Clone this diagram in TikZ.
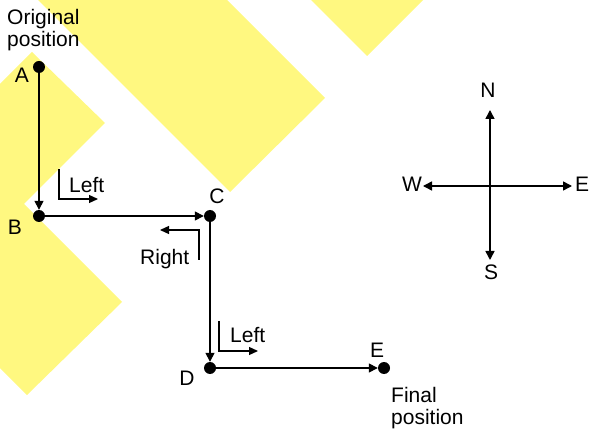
\documentclass[tikz,border=0pt]{standalone}
\usepackage{fontspec}
\setmainfont{Liberation Sans}
\usetikzlibrary{arrows.meta}
\begin{document}
\begin{tikzpicture}[x=1pt,y=-1pt,
  bg/.style={fill=yellow!50,draw=none},
  dot/.style={circle,fill=black,inner sep=0pt,minimum size=12pt},
  lbl/.style={inner sep=0pt,font=\fontsize{21}{22}\selectfont},
  arr/.style={line width=1.5pt,-{Triangle[length=9pt,width=9pt]}},
  sarr/.style={line width=1.2pt,-{Triangle[length=9pt,width=8pt]}}]
\useasboundingbox (0,0) rectangle (589,430);
\begin{scope}
\clip (0,0) rectangle (589,430);
% background ribbons
\fill[bg] (230,192) -- (325,98) -- (75,-152) -- (-20,-58) -- cycle;
\fill[bg] (367,56) -- (287,-24) -- (447,-24) -- cycle;
\fill[bg] (32,52) -- (105,123) -- (-45,273) -- (-68,152) -- cycle;
\fill[bg] (122,302) -- (27,395) -- (-30,338) -- (-30,150) -- (-55,125) -- cycle;
\end{scope}
% points
\node[dot] (A) at (39,67) {};
\node[dot] (B) at (39,216) {};
\node[dot] (C) at (210,216) {};
\node[dot] (D) at (210,368) {};
\node[dot] (E) at (384,368) {};
% point labels
\node[lbl,anchor=base] (lA) at (22,83) {A};
\node[lbl,anchor=base] (lB) at (15,235) {B};
\node[lbl,anchor=base] (lC) at (217,204) {C};
\node[lbl,anchor=base] (lD) at (187,385) {D};
\node[lbl,anchor=base] (lE) at (377,357) {E};
\node[lbl,anchor=base west] (or1) at (7,25) {Original};
\node[lbl,anchor=base west] (or2) at (7,47) {position};
\node[lbl,anchor=base west] (fi1) at (391,402) {Final};
\node[lbl,anchor=base west] (fi2) at (391,424) {position};
% path
\draw[arr] (A) -- (B);
\draw[arr] (B) -- (C);
\draw[arr] (C) -- (D);
\draw[arr] (D) -- (E);
% turn indicators
\coordinate (t1a) at (59,169);
\coordinate (t1b) at (59,199);
\coordinate (t1c) at (98,199);
\draw[sarr] (t1a) -- (t1b) -- (t1c);
\node[lbl,anchor=base west] (left1) at (69,193) {Left};
\coordinate (t2a) at (199,260);
\coordinate (t2b) at (199,230);
\coordinate (t2c) at (160,230);
\draw[sarr] (t2a) -- (t2b) -- (t2c);
\node[lbl,anchor=base west] (right1) at (140,265) {Right};
\coordinate (t3a) at (219,321);
\coordinate (t3b) at (219,351);
\coordinate (t3c) at (258,351);
\draw[sarr] (t3a) -- (t3b) -- (t3c);
\node[lbl,anchor=base west] (left2) at (230,342) {Left};
% compass
\coordinate (O) at (490,186);
\coordinate (cN) at (490,110);
\coordinate (cS) at (490,260);
\coordinate (cW) at (423,186);
\coordinate (cE) at (572,186);
\draw[arr] (O) -- (cN);
\draw[arr] (O) -- (cS);
\draw[arr] (O) -- (cW);
\draw[arr] (O) -- (cE);
\node[lbl,anchor=base] (nN) at (488,98) {N};
\node[lbl,anchor=base] (nS) at (491,280) {S};
\node[lbl,anchor=base] (nW) at (412,192) {W};
\node[lbl,anchor=base west] (nE) at (575,192) {E};
\end{tikzpicture}
\end{document}
